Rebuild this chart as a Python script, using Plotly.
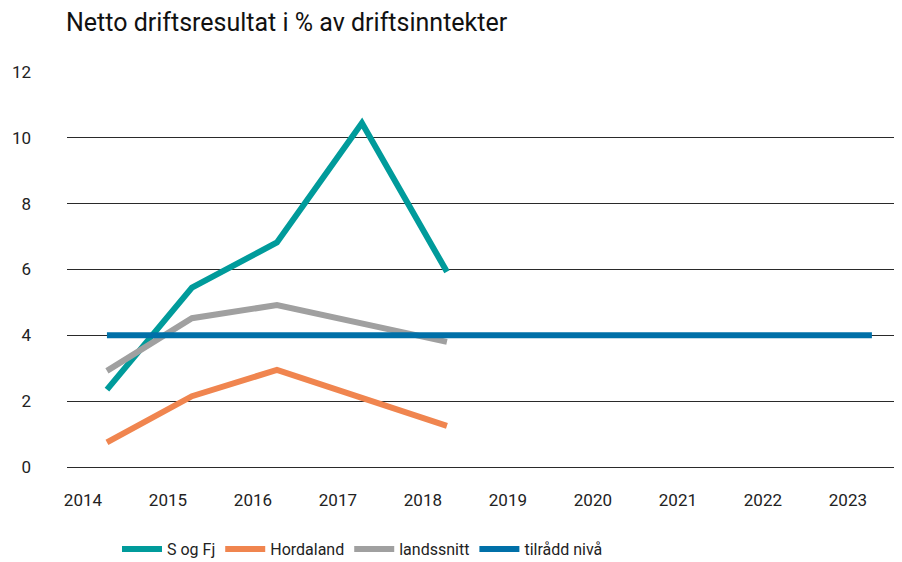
import plotly.graph_objects as go

years = ["2014", "2015", "2016", "2017", "2018", "2019", "2020", "2021", "2022", "2023"]
s_og_fj = [2.35, 5.45, 6.82, 10.45, 5.93]
hordaland = [0.75, 2.15, 2.95, 2.1, 1.25]
landssnitt = [2.92, 4.52, 4.92, 4.35, 3.8]
tilradd = [4, 4, 4, 4, 4, 4, 4, 4, 4, 4]

series = [
    ("S og Fj", s_og_fj, "#009B9B"),
    ("Hordaland", hordaland, "#F0854F"),
    ("landssnitt", landssnitt, "#A0A0A0"),
    ("tilrådd nivå", tilradd, "#0070A8"),
]

W, H = 886, 554
L, T, B = 59, 64, 95
PW, PH = W - L, H - T - B

fig = go.Figure()
for name, vals, col in series:
    fig.add_trace(go.Scatter(
        x=years[:len(vals)], y=vals, name=name, mode="lines",
        line=dict(color=col, width=6),
    ))

fig.update_layout(
    width=W, height=H,
    margin=dict(l=L, r=0, t=T, b=B),
    paper_bgcolor="white", plot_bgcolor="white",
    font=dict(family="Roboto", size=16, color="#222222"),
    title=dict(text="Netto driftsresultat i % av driftsinntekter",
               x=58/W, xanchor="left", y=1 - 14/H, yanchor="middle",
               font=dict(size=25, color="#111111")),
    showlegend=True,
    legend=dict(orientation="h", xref="container", yref="container",
                x=109/W, xanchor="left",
                y=1 - 541/H, yanchor="middle",
                font=dict(size=16, family="Roboto"),
                itemwidth=40, traceorder="normal"),
)
fig.update_xaxes(type="category", range=[-0.47, 9.26], showgrid=False,
                 showline=False, zeroline=False, ticks="",
                 ticklabelshift=-24, ticklabelstandoff=21,
                 tickfont=dict(size=17))
fig.update_yaxes(range=[0, 12], dtick=2, tick0=0, showgrid=True,
                 gridcolor="#2a2a2a", gridwidth=1, zeroline=True,
                 zerolinecolor="#2a2a2a", zerolinewidth=1, showline=False,
                 ticks="", ticklabelstandoff=35, tickfont=dict(size=17))

fig.write_html("out.html")
